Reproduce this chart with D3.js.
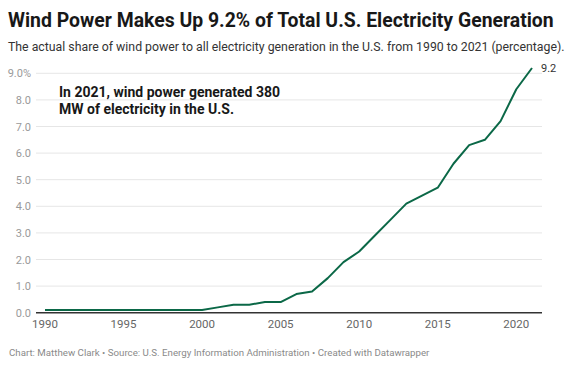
<!DOCTYPE html>
<html>
<head>
<meta charset="utf-8">
<script src="https://cdn.jsdelivr.net/npm/d3@7"></script>
<style>
  body { margin: 0; background: #fff; font-family: Roboto, sans-serif; }
</style>
</head>
<body>
<script>
// wind share of total US electricity generation, percent
var years = d3.range(1990, 2022);
var share = [0.1, 0.1, 0.1, 0.1, 0.1, 0.1, 0.1, 0.1, 0.1, 0.1, 0.1,
             0.2, 0.3, 0.3, 0.4, 0.4, 0.7, 0.8, 1.3, 1.9, 2.3,
             2.9, 3.5, 4.1, 4.4, 4.7, 5.6, 6.3, 6.5, 7.2, 8.4, 9.2];
var yTicks = [0, 1, 2, 3, 4, 5, 6, 7, 8, 9];
var xTicks = [1990, 1995, 2000, 2005, 2010, 2015, 2020];

var W = 575, H = 368;
var svg = d3.select("body").append("svg")
    .attr("width", W)
    .attr("height", H);

// title + description
svg.append("text").attr("x", 8).attr("y", 27)
    .attr("font-size", "19.4px").attr("font-weight", "bold").attr("fill", "#181818")
    .text("Wind Power Makes Up 9.2% of Total U.S. Electricity Generation");
svg.append("text").attr("x", 8).attr("y", 51)
    .attr("font-size", "12.3px").attr("fill", "#333")
    .text("The actual share of wind power to all electricity generation in the U.S. from 1990 to 2021 (percentage).");

var x = d3.scaleLinear().domain([1990, 2021]).range([45, 532]);
var y = d3.scaleLinear().domain([0, 9]).range([312.7, 73.3]);
var gridLeft = 36, gridRight = 542;

// gridlines
svg.selectAll(".grid")
    .data(yTicks.slice(1))
    .enter().append("line")
    .attr("x1", gridLeft).attr("x2", gridRight)
    .attr("y1", function (d) { return y(d); })
    .attr("y2", function (d) { return y(d); })
    .attr("stroke", "#e6e6e6").attr("stroke-width", 1);

// y labels
svg.selectAll(".ylab")
    .data(yTicks)
    .enter().append("text")
    .attr("x", 31)
    .attr("y", function (d) { return y(d) + 4; })
    .attr("text-anchor", "end")
    .attr("font-size", "11px").attr("fill", "#9a9a9a")
    .text(function (d) { return d == 9 ? d.toFixed(1) + "%" : d.toFixed(1); });

// baseline
svg.append("line")
    .attr("x1", gridLeft).attr("x2", gridRight)
    .attr("y1", y(0)).attr("y2", y(0))
    .attr("stroke", "#333").attr("stroke-width", 1.5);

// x labels
svg.selectAll(".xlab")
    .data(xTicks)
    .enter().append("text")
    .attr("x", function (d) { return x(d); })
    .attr("y", 328)
    .attr("text-anchor", "middle")
    .attr("font-size", "11.5px").attr("fill", "#666")
    .text(function (d) { return d; });

// the line
var line = d3.line()
    .x(function (d, i) { return x(years[i]); })
    .y(function (d) { return y(d); });

svg.append("path")
    .datum(share)
    .attr("d", line)
    .attr("fill", "none")
    .attr("stroke", "#0b6847")
    .attr("stroke-width", 2)
    .attr("stroke-linejoin", "round");

// end value label
var last = share.length - 1;
svg.append("text")
    .attr("x", x(years[last]) + 9)
    .attr("y", y(share[last]) + 4)
    .attr("font-size", "11px").attr("fill", "#333")
    .text(share[last]);

// annotation
var note = svg.append("text")
    .attr("x", 59).attr("y", 97)
    .attr("font-size", "14px").attr("font-weight", "bold").attr("fill", "#181818");
note.append("tspan").attr("x", 59).text("In 2021, wind power generated 380");
note.append("tspan").attr("x", 59).attr("dy", 16.5).text("MW of electricity in the U.S.");

// footer
svg.append("text").attr("x", 9).attr("y", 356)
    .attr("font-size", "9.7px").attr("fill", "#8a8a8a")
    .text("Chart: Matthew Clark \u2022 Source: U.S. Energy Information Administration \u2022 Created with Datawrapper");
</script>
</body>
</html>
